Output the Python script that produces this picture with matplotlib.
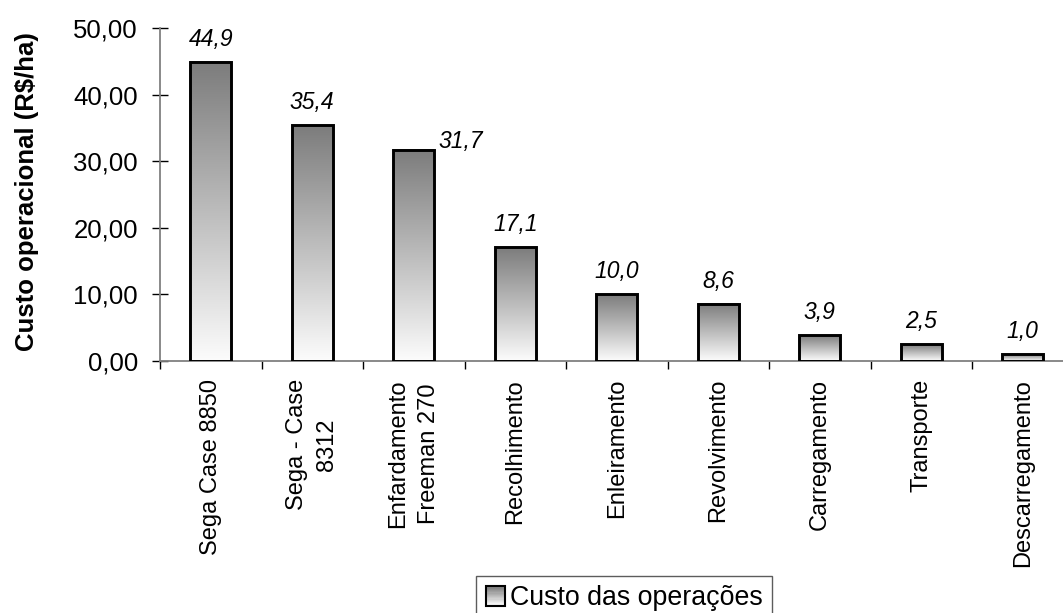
import numpy as np
import matplotlib
matplotlib.use("Agg")
import matplotlib.pyplot as plt
from matplotlib.colors import LinearSegmentedColormap
from matplotlib.legend_handler import HandlerBase
from matplotlib.patches import Rectangle

# Operational cost per operation (R$/ha)
operacoes = [
    "Sega Case 8850",
    "Sega - Case\n8312",
    "Enfardamento\nFreeman 270",
    "Recolhimento",
    "Enleiramento",
    "Revolvimento",
    "Carregamento",
    "Transporte",
    "Descarregamento",
]
custos = [44.9, 35.4, 31.7, 17.1, 10.0, 8.6, 3.9, 2.5, 1.0]
y_ticks = [0, 10, 20, 30, 40, 50]
serie = "Custo das operações"

plt.rcParams["font.family"] = ["Liberation Sans", "DejaVu Sans"]

TOP_GRAY = "#7c7c7c"
BOTTOM_GRAY = "#fcfcfc"
grad_cmap = LinearSegmentedColormap.from_list("grad", [BOTTOM_GRAY, TOP_GRAY])

fig = plt.figure(figsize=(10.63, 6.13), dpi=100)
W, H = 1063, 613
ax_left, ax_bottom_px, ax_top_px = 160, 361, 28
cat_w = 101.5
ax = fig.add_axes([ax_left / W, 1 - ax_bottom_px / H,
                   cat_w * len(operacoes) / W, (ax_bottom_px - ax_top_px) / H])

x = np.arange(len(operacoes))
bar_w = 0.40

# gradient fill per bar, dark at the top fading to white at the base
grad = np.linspace(1, 0, 256).reshape(-1, 1)
for xi, v in zip(x, custos):
    ax.imshow(grad, cmap=grad_cmap, vmin=0, vmax=1, aspect="auto",
              extent=[xi - bar_w / 2, xi + bar_w / 2, 0, v],
              interpolation="bicubic", zorder=2)
ax.bar(x, custos, width=bar_w, fill=False, edgecolor="black",
       linewidth=2.1, zorder=3)
ax.set_xlim(-0.5, len(operacoes) - 0.5)
ax.set_ylim(0, 50)

# value labels
for i, (xi, v) in enumerate(zip(x, custos)):
    txt = f"{v:.1f}".replace(".", ",")
    if i == 2:
        ax.annotate(txt, (xi + bar_w / 2, v), xytext=(3, 1),
                    textcoords="offset points", ha="left", va="baseline",
                    fontsize=16.5, fontstyle="italic", zorder=4)
    else:
        ax.annotate(txt, (xi, v), xytext=(0, 11.5),
                    textcoords="offset points", ha="center", va="baseline",
                    fontsize=16.5, fontstyle="italic", zorder=4)

# axes styling
for s in ("top", "right"):
    ax.spines[s].set_visible(False)
for s in ("left", "bottom"):
    ax.spines[s].set_color("#808080")
    ax.spines[s].set_linewidth(1.3)

ax.set_yticks(y_ticks)
ax.set_yticklabels([f"{t:.2f}".replace(".", ",") for t in y_ticks], fontsize=18.5)
ax.tick_params(axis="y", direction="inout", length=12, width=1.0,
               color="black", pad=10)

ax.set_xticks(x)
ax.set_xticklabels(operacoes, rotation=90, fontsize=17, ha="center",
                   va="top", multialignment="center", linespacing=1.5)
ax.tick_params(axis="x", which="major", length=0, pad=13)
ax.set_xticks(np.arange(len(operacoes) + 1) - 0.5, minor=True)
ax.tick_params(axis="x", which="minor", direction="out", length=6,
               width=1.0, color="black")

ax.set_ylabel("Custo operacional (R$/ha)", fontsize=18.5, fontweight="bold")
ax.yaxis.set_label_coords(-0.133, 0.51)


class GradientHandler(HandlerBase):
    def create_artists(self, legend, orig_handle, xdescent, ydescent,
                       width, height, fontsize, trans):
        side = height
        x0 = -xdescent + (width - side) / 2
        y0 = -ydescent
        arts = []
        n = 16
        for k in range(n):
            c = grad_cmap(1 - k / (n - 1))
            arts.append(Rectangle((x0, y0 + side - (k + 1) * side / n),
                                  side, side / n, facecolor=c,
                                  edgecolor="none", transform=trans))
        arts.append(Rectangle((x0, y0), side, side, fill=False,
                              edgecolor="black", linewidth=1.5,
                              transform=trans))
        return arts


handle = Rectangle((0, 0), 1, 1)
leg = fig.legend([handle], [serie], handler_map={Rectangle: GradientHandler()},
                 loc="upper left", bbox_to_anchor=(476 / W, 1 - 576 / H),
                 bbox_transform=fig.transFigure, fontsize=19.3,
                 frameon=True, fancybox=False, handlelength=0.75,
                 handleheight=0.75, handletextpad=0.15, borderpad=0.35,
                 borderaxespad=0)
leg.get_frame().set_edgecolor("#333333")
leg.get_frame().set_linewidth(1.0)

fig.savefig("out.png", dpi=100)
